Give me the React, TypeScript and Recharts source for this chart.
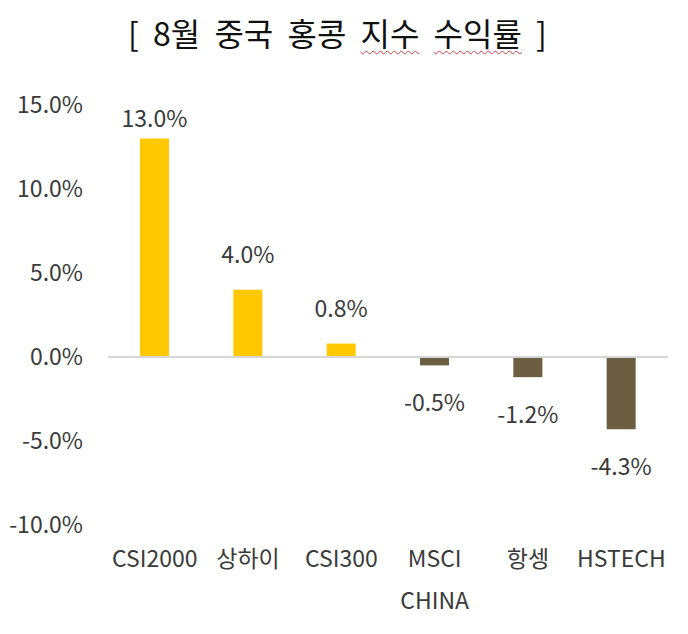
import React from "react";
import { BarChart, Bar, XAxis, YAxis, ReferenceLine, Cell, LabelList } from "recharts";

const categories = ["CSI2000", "상하이", "CSI300", "MSCI CHINA", "항셍", "HSTECH"];
const returns = [13.0, 4.0, 0.8, -0.5, -1.2, -4.3];
const yTicks = [-10, -5, 0, 5, 10, 15];

const POS_COLOR = "#FFC800";
const NEG_COLOR = "#6B5E42";
const TEXT = "#3a3a3a";
const FONT = "'Noto Sans CJK KR', 'Noto Sans', sans-serif";
const FS = 23;

const data = categories.map((name, i) => ({ name, value: returns[i] }));

function YTick(props: any) {
  const { y, payload } = props;
  return (
    <text x={83} y={y} dy={8} textAnchor="end" fill={TEXT} fontSize={FS} fontFamily={FONT}>
      {payload.value.toFixed(1)}%
    </text>
  );
}

function XTick(props: any) {
  const { x, y, payload } = props;
  const parts = String(payload.value).split(" ");
  return (
    <text x={x} y={y} textAnchor="middle" fill={TEXT} fontSize={FS} fontFamily={FONT}>
      {parts.map((p: string, i: number) => (
        <tspan key={i} x={x} dy={i === 0 ? 34 : 42}>
          {p}
        </tspan>
      ))}
    </text>
  );
}

function ValueLabel(props: any) {
  const { x, y, width, height, value } = props;
  const cx = x + width / 2;
  const neg = value < 0;
  const top = Math.min(y, y + height);
  const bottom = Math.max(y, y + height);
  const ty = neg ? bottom + 46 : Math.max(top - 27, 127);
  return (
    <text x={cx} y={ty} textAnchor="middle" fill={TEXT} fontSize={FS} fontFamily={FONT}>
      {value.toFixed(1)}%
    </text>
  );
}

const wavy = {
  textDecoration: "underline wavy #d04040",
  textDecorationThickness: 1,
  textUnderlineOffset: 4,
};

export default function App() {
  return (
    <div
      style={{
        position: "absolute",
        left: 0,
        top: 0,
        width: 688,
        height: 634,
        background: "#fff",
        fontFamily: FONT,
      }}
    >
      <div
        style={{
          position: "absolute",
          top: 13,
          left: 0,
          width: 688,
          textAlign: "center",
          fontSize: 32,
          lineHeight: "38px",
          color: "#111",
          wordSpacing: 7,
          paddingRight: 13,
          boxSizing: "border-box",
        }}
      >
        [ 8월 중국 홍콩 <span style={wavy}>지수</span> <span style={wavy}>수익률</span> ]
      </div>
      <BarChart
        width={688}
        height={634}
        data={data}
        margin={{ top: 105, right: 20, bottom: 0, left: 0 }}
        barSize={29}
      >
        <YAxis
          type="number"
          domain={[-10, 15]}
          ticks={yTicks}
          axisLine={false}
          tickLine={false}
          width={108}
          tick={<YTick />}
          interval={0}
        />
        <XAxis
          dataKey="name"
          axisLine={false}
          tickLine={false}
          interval={0}
          tick={<XTick />}
          height={109}
        />
        <ReferenceLine y={0} stroke="#d6d6d6" strokeWidth={2} />
        <Bar dataKey="value" isAnimationActive={false}>
          {data.map((d, i) => (
            <Cell key={i} fill={d.value >= 0 ? POS_COLOR : NEG_COLOR} />
          ))}
          <LabelList dataKey="value" content={<ValueLabel />} />
        </Bar>
      </BarChart>
    </div>
  );
}
